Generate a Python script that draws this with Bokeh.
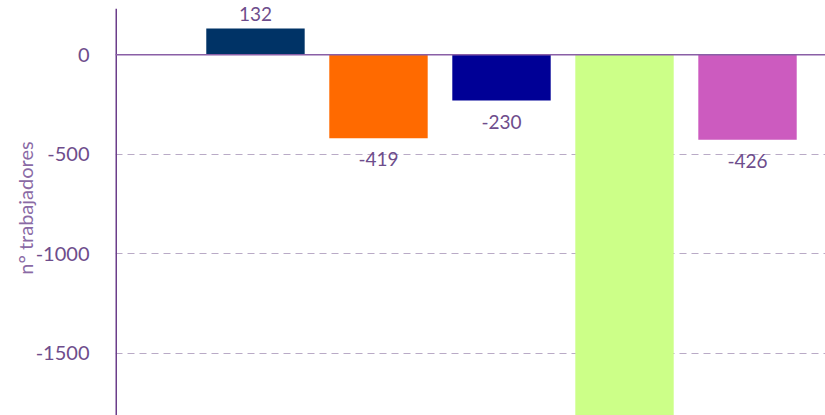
from bokeh.plotting import figure
from bokeh.models import ColumnDataSource, Range1d, FixedTicker, Span, LabelSet
from bokeh.core.properties import value
from bokeh.embed import file_html
from bokeh.resources import INLINE

# Data (green bar runs off the bottom; value estimated)
positions = [1, 2, 3, 4, 5]
values = [132, -419, -230, -2050, -426]
colors = ["#003366", "#ff6a00", "#000096", "#ccff88", "#cc5bbf"]
y_ticks = [0, -500, -1000, -1500]
y_tick_labels = ["0", "-500", "-1000", "-1500"]
y_min, y_max = -1812, 273
axis_top = 232
x_start, x_end = -0.138, 5.634

src = ColumnDataSource(dict(x=positions, top=values, color=colors))
# value labels: only those that fall inside the visible area
src_pos = ColumnDataSource(dict(x=[x for x, v in zip(positions, values) if v > 0],
                                y=[v for v in values if v > 0],
                                label=[str(v) for v in values if v > 0]))
neg = [(x, v) for x, v in zip(positions, values) if y_min < v < 0]
src_neg = ColumnDataSource(dict(x=[x for x, v in neg], y=[v for x, v in neg],
                                label=[str(v) for x, v in neg]))

purple = "#6e4d8c"

p = figure(width=825, height=415, output_backend="svg", toolbar_location=None,
           x_range=Range1d(x_start, x_end), y_range=Range1d(y_min, y_max),
           min_border_left=115, min_border_right=0, min_border_top=0, min_border_bottom=0)
p.outline_line_color = None
p.xaxis.visible = False
p.xgrid.visible = False

p.vbar(x="x", top="top", bottom=0, width=0.8, fill_color="color", line_color=None, source=src)

p.add_layout(Span(location=0, dimension="width", line_color="#8a5fa6", line_width=1.5))

# vertical axis line starts a little below the top edge
p.segment(x0=[x_start], y0=[y_min], x1=[x_start], y1=[axis_top], line_color="#6b3d8a", line_width=3)

p.ygrid.ticker = FixedTicker(ticks=y_ticks)
p.ygrid.grid_line_color = "#b9aac6"
p.ygrid.grid_line_dash = "7 5"
p.ygrid.grid_line_width = 1.2

ax = p.yaxis[0]
ax.ticker = FixedTicker(ticks=y_ticks)
ax.major_label_overrides = dict(zip(y_ticks, y_tick_labels))
ax.axis_line_color = None
ax.major_tick_line_color = None
ax.minor_tick_line_color = None
ax.major_label_standoff = 20
ax.major_label_text_font = "Lato"
ax.major_label_text_font_size = "20px"
ax.major_label_text_color = purple
ax.axis_label = "n° trabajadores"
ax.axis_label_text_font = "Lato"
ax.axis_label_text_font_style = "normal"
ax.axis_label_text_font_size = "20px"
ax.axis_label_text_color = "#8a6aa5"
ax.axis_label_standoff = -4

p.add_layout(LabelSet(x="x", y="y", text="label", source=src_pos, text_align="center",
                      text_baseline="bottom", y_offset=8, text_font=value("Lato"),
                      text_font_size="19px", text_color=purple))
p.add_layout(LabelSet(x="x", y="y", text="label", source=src_neg, text_align="center",
                      text_baseline="top", y_offset=-14, text_font=value("Lato"),
                      text_font_size="19px", text_color=purple))

open("out.html", "w").write(file_html(p, INLINE))
